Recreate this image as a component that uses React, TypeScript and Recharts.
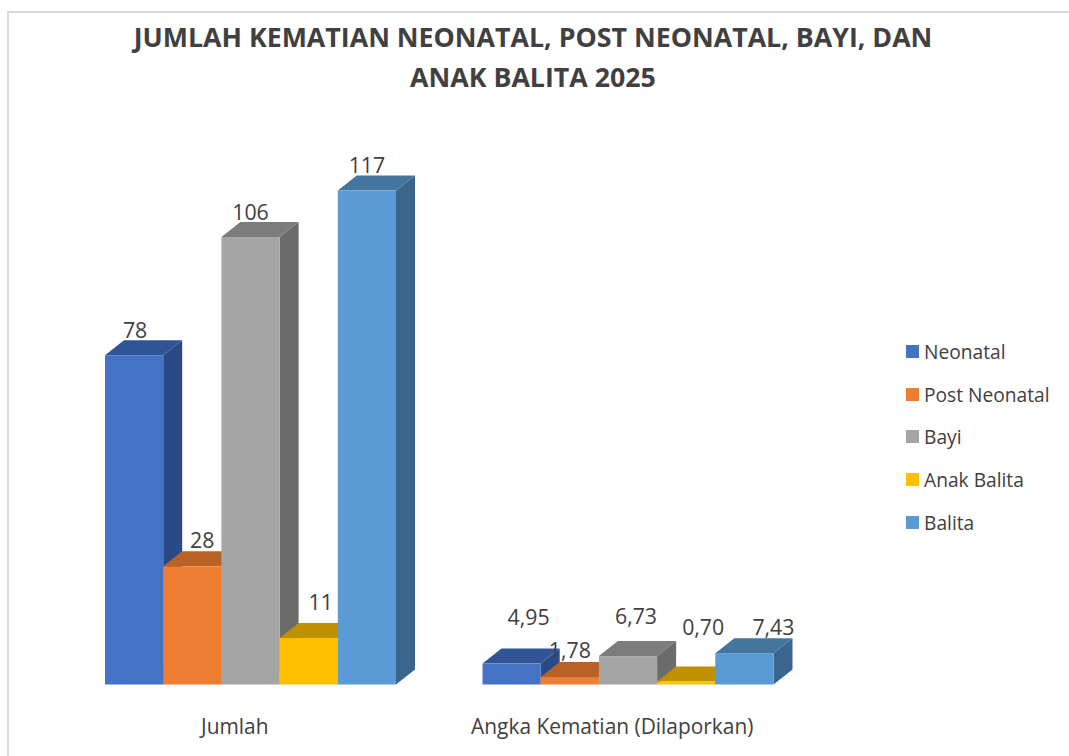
import React from 'react';
import { BarChart, Bar, XAxis, YAxis, LabelList } from 'recharts';

const FONT = '"Open Sans", sans-serif';
const TEXT_COLOR = '#404040';

// Values
const categories = ['Jumlah', 'Angka Kematian (Dilaporkan)'];
const neonatal = [78, 4.95];
const postNeonatal = [28, 1.78];
const bayi = [106, 6.73];
const anakBalita = [11, 0.7];
const balita = [117, 7.43];

// Label text as printed in the chart
const neonatalLabels = ['78', '4,95'];
const postNeonatalLabels = ['28', '1,78'];
const bayiLabels = ['106', '6,73'];
const anakBalitaLabels = ['11', '0,70'];
const balitaLabels = ['117', '7,43'];

const chartData = categories.map((name, i) => ({
    name,
    Neonatal: neonatal[i],
    'Post Neonatal': postNeonatal[i],
    Bayi: bayi[i],
    'Anak Balita': anakBalita[i],
    Balita: balita[i],
}));

// Front, top and side colours of each 3D column, and how far each label was dragged
const SERIES = [
    { key: 'Neonatal', labels: neonatalLabels, front: '#4472C4', top: '#2F5597', side: '#2A4A86', shift: [[1, -26], [17, -47]] },
    { key: 'Post Neonatal', labels: postNeonatalLabels, front: '#ED7D31', top: '#B86226', side: '#A85A22', shift: [[10, -27], [0, -27]] },
    { key: 'Bayi', labels: bayiLabels, front: '#A5A5A5', top: '#7C7C7C', side: '#6B6B6B', shift: [[0, -26], [8, -41]] },
    { key: 'Anak Balita', labels: anakBalitaLabels, front: '#FFC000', top: '#BF9000', side: '#A87F00', shift: [[12, -37], [17, -55]] },
    { key: 'Balita', labels: balitaLabels, front: '#5B9BD5', top: '#44759F', side: '#3A658D', shift: [[0, -26], [29, -27]] },
];

const DEPTH_X = 19;
const DEPTH_Y = 15;

const makeColumn = (front: string, top: string, side: string) => (props: any) => {
    const { x, y, width, height } = props;
    const r = x + width;
    const b = y + height;
    return (
        <g>
            <polygon
                points={`${r},${y} ${r + DEPTH_X},${y - DEPTH_Y} ${r + DEPTH_X},${b - DEPTH_Y} ${r},${b}`}
                fill={side}
            />
            <polygon
                points={`${x},${y} ${x + DEPTH_X},${y - DEPTH_Y} ${r + DEPTH_X},${y - DEPTH_Y} ${r},${y}`}
                fill={top}
            />
            <rect x={x} y={y} width={width} height={height} fill={front} />
        </g>
    );
};

const makeLabel = (labels: string[], shift: number[][]) => (props: any) => {
    const { x, y, width, index } = props;
    return (
        <text
            x={x + width / 2 + shift[index][0]}
            y={y + shift[index][1]}
            textAnchor="middle"
            dominantBaseline="central"
            fontFamily={FONT}
            fontSize={21.3}
            fill={TEXT_COLOR}
        >
            {labels[index]}
        </text>
    );
};

const CategoryTick = (props: any) => {
    const { x, y, payload } = props;
    return (
        <text
            x={x - 16}
            y={y + 33}
            textAnchor="middle"
            dominantBaseline="central"
            fontFamily={FONT}
            fontSize={20.9}
            fill={TEXT_COLOR}
        >
            {payload.value}
        </text>
    );
};

const App: React.FC = () => (
    <div style={{ position: 'absolute', left: 0, top: 0, width: 1069, height: 756, overflow: 'hidden', background: '#fff' }}>
        {/* chart area border, only top and left are in the crop */}
        <div style={{ position: 'absolute', left: 7, top: 11, right: -4, bottom: -4, border: '2px solid #D9D9D9' }} />
        <div
            style={{
                position: 'absolute',
                left: 0,
                width: 1066,
                top: 17,
                textAlign: 'center',
                fontFamily: FONT,
                fontWeight: 700,
                fontSize: 26.75,
                lineHeight: '40px',
                color: TEXT_COLOR,
            }}
        >
            JUMLAH KEMATIAN NEONATAL, POST NEONATAL, BAYI, DAN
            <br />
            ANAK BALITA 2025
        </div>
        <div style={{ position: 'absolute', left: 0, top: 0 }}>
            <BarChart
                width={1069}
                height={756}
                data={chartData}
                margin={{ top: 93.5, right: 252, bottom: 0, left: 62 }}
                barSize={58.2}
                barGap={0}
            >
                <XAxis dataKey="name" height={71.5} axisLine={false} tickLine={false} tick={<CategoryTick />} interval={0} />
                <YAxis hide domain={[0, 140]} />
                {SERIES.map((s) => (
                    <Bar
                        key={s.key}
                        dataKey={s.key}
                        fill={s.front}
                        isAnimationActive={false}
                        shape={makeColumn(s.front, s.top, s.side)}
                    >
                        <LabelList content={makeLabel(s.labels, s.shift)} />
                    </Bar>
                ))}
            </BarChart>
        </div>
        {/* legend */}
        <div style={{ position: 'absolute', left: 906, top: 330 }}>
            {SERIES.map((s) => (
                <div key={s.key} style={{ display: 'flex', alignItems: 'center', height: 42.7 }}>
                    <span style={{ width: 13, height: 13, background: s.front, marginRight: 5 }} />
                    <span style={{ fontFamily: FONT, fontSize: 19.2, color: TEXT_COLOR, whiteSpace: 'nowrap' }}>{s.key}</span>
                </div>
            ))}
        </div>
    </div>
);

export default App;
